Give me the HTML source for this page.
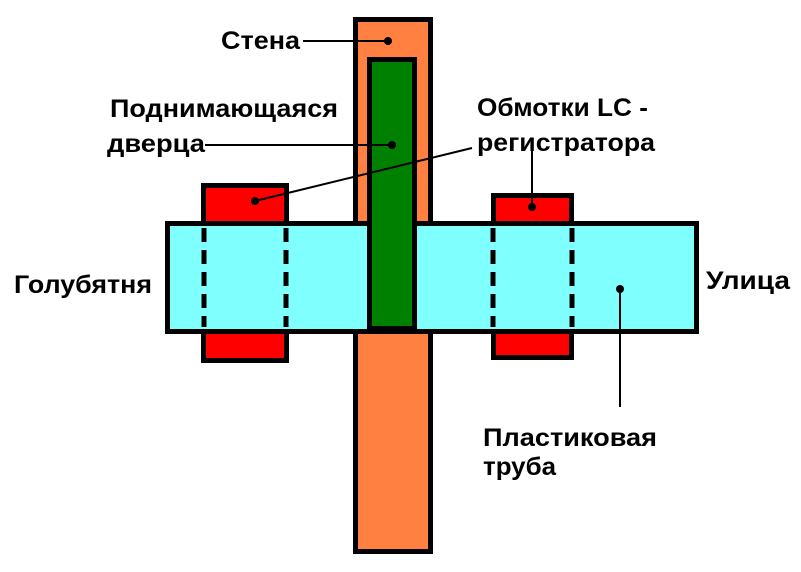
<!DOCTYPE html>
<html><head><meta charset="utf-8"><style>
html,body{margin:0;padding:0;background:#fff;width:801px;height:572px;overflow:hidden}
svg text{font-family:"Liberation Sans",Arial,sans-serif;font-weight:bold;font-size:25px;fill:#000}
</style></head><body>
<svg width="801" height="572" xmlns="http://www.w3.org/2000/svg">
<rect x="355.5" y="19.5" width="75" height="532" fill="#FF8040" stroke="#000" stroke-width="5"/>
<rect x="203.5" y="185.5" width="83" height="175" fill="#FF0000" stroke="#000" stroke-width="5"/>
<rect x="493.5" y="195.5" width="78" height="162" fill="#FF0000" stroke="#000" stroke-width="5"/>
<rect x="167.5" y="223.5" width="529" height="108" fill="#80FFFF" stroke="#000" stroke-width="5"/>
<g stroke="#000" stroke-width="5" stroke-dasharray="14,8">
<line x1="204" y1="228" x2="204" y2="327"/>
<line x1="286" y1="228" x2="286" y2="327"/>
<line x1="493" y1="228" x2="493" y2="327"/>
<line x1="572" y1="228" x2="572" y2="327"/>
</g>
<rect x="369.5" y="59.5" width="45" height="269" fill="#008000" stroke="#000" stroke-width="5"/>
<g stroke="#000" stroke-width="2" fill="none">
<line x1="303" y1="41" x2="388" y2="41"/>
<line x1="205" y1="145" x2="392" y2="145"/>
<line x1="255" y1="201" x2="472" y2="148"/>
<line x1="532" y1="145" x2="532" y2="207"/>
<line x1="620" y1="289" x2="620" y2="407"/>
</g>
<g fill="#000">
<circle cx="388" cy="41" r="4"/><circle cx="392" cy="145" r="4"/>
<circle cx="255" cy="201" r="4"/><circle cx="532" cy="207" r="4"/>
<circle cx="620" cy="289" r="4"/>
</g>
<text x="221" y="49" textLength="79" lengthAdjust="spacingAndGlyphs">Стена</text>
<text x="110" y="117" textLength="228" lengthAdjust="spacingAndGlyphs">Поднимающаяся</text>
<text x="107" y="152" textLength="98" lengthAdjust="spacingAndGlyphs">дверца</text>
<text x="477" y="116" textLength="171" lengthAdjust="spacingAndGlyphs">Обмотки  LC -</text>
<text x="477" y="151" textLength="178" lengthAdjust="spacingAndGlyphs">регистратора</text>
<text x="14" y="293" textLength="138" lengthAdjust="spacingAndGlyphs">Голубятня</text>
<text x="706" y="289" textLength="84" lengthAdjust="spacingAndGlyphs">Улица</text>
<text x="483" y="446" textLength="174" lengthAdjust="spacingAndGlyphs">Пластиковая</text>
<text x="483" y="475" textLength="73" lengthAdjust="spacingAndGlyphs">труба</text>
</svg>
</body></html>
